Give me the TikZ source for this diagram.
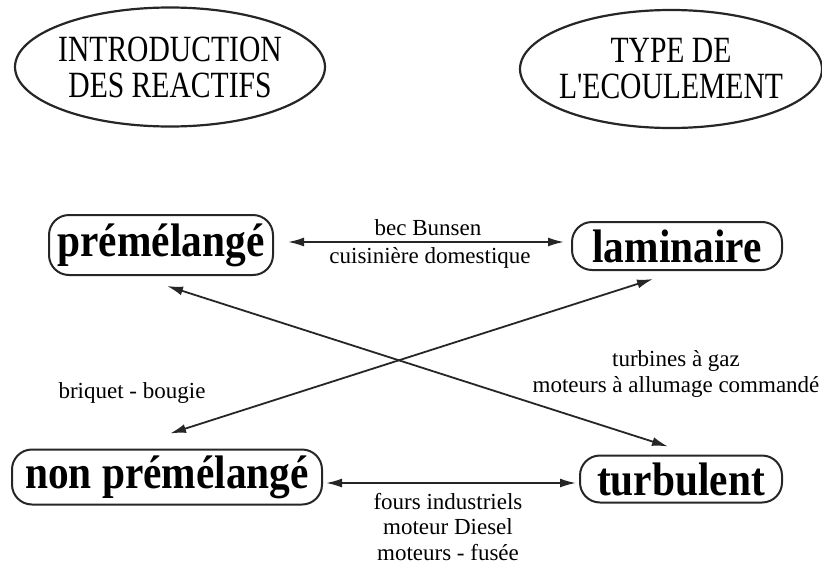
\documentclass[tikz,border=0pt]{standalone}
\usepackage{fontspec}
\setmainfont{Liberation Serif}
\newfontfamily\ellfont[FakeStretch=0.8]{Liberation Serif}
\newfontfamily\boxfont[FakeStretch=0.88]{Liberation Serif}
\usetikzlibrary{shapes.geometric,arrows.meta,calc}
\begin{document}
\begin{tikzpicture}[x=1pt,y=-1pt,
  elltext/.style={inner sep=0pt, align=center,
    font=\ellfont\fontsize{37}{36}\selectfont},
  ellline/.style={draw=black!85, line width=2.2pt},
  rbox/.style={draw=black!85, rounded corners=20pt, line width=2pt, inner sep=0pt,
    font=\boxfont\bfseries\fontsize{47}{47}\selectfont},
  lbl/.style={inner sep=0pt, align=center, font=\fontsize{23}{25.5}\selectfont},
  dbl/.style={{Latex[length=16pt,width=9pt]}-{Latex[length=16pt,width=9pt]},
    line width=1.8pt, draw=black!85}]
\useasboundingbox (0,0) rectangle (822,565);
% title ellipses
\node[elltext] (intro) at (170,67) {INTRODUCTION\\DES REACTIFS};
\draw[ellline] (intro.center) ellipse [x radius=155pt, y radius=59.5pt];
\node[elltext] (type) at (671,69) {TYPE DE\\L'ECOULEMENT};
\draw[ellline] (type.center) ellipse [x radius=151pt, y radius=59pt];
% boxes
\node[rbox, minimum width=224pt, minimum height=60pt] (pre) at (161,245) {prémélangé};
\node[rbox, minimum width=210pt, minimum height=48pt] (lam) at (677,246) {laminaire};
\node[rbox, minimum width=310pt, minimum height=55pt] (non) at (167,477) {non prémélangé};
\node[rbox, minimum width=202pt, minimum height=47pt] (turb) at (681,479) {turbulent};
% connectors
\draw[dbl] ([shift={(14,-3)}]pre.east) -- ([shift={(-7,-4)}]lam.west);
\draw[dbl] ([shift={(3,6)}]non.east) -- ([shift={(-3,4)}]turb.west);
\draw[dbl] ([shift={(6,10)}]pre.south) -- ([shift={(-13,-8)}]turb.north);
\draw[dbl] ([shift={(3,-15)}]non.north) -- ([shift={(-24,8)}]lam.south);
% labels
\node[lbl] (l1) at (428,228) {bec Bunsen};
\node[lbl] (l2) at (430,258) {cuisinière domestique};
\node[lbl] (l3) at (132,393) {briquet - bougie};
\node[lbl] (l4) at (676,374) {turbines à gaz\\moteurs à allumage commandé};
\node[lbl] (l5) at (448,527) {fours industriels\\moteur Diesel\\moteurs - fusée};
\end{tikzpicture}
\end{document}
